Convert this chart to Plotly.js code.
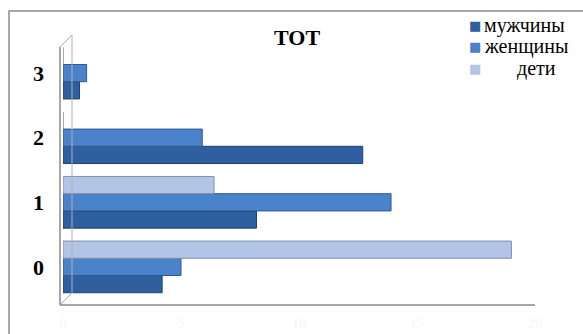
<!DOCTYPE html>
<html>
<head>
<meta charset="utf-8">
<script src="https://cdn.plot.ly/plotly-3.0.1.min.js"></script>
<style>
  html, body { margin: 0; padding: 0; background: #ffffff; }
  #chart { width: 583px; height: 334px; }
</style>
</head>
<body>
<div id="chart"></div>
<script>
// Data
var categories = ['0', '1', '2', '3'];
var seriesNames = ['мужчины', 'женщины', 'дети'];
var men = [4.2, 8.2, 12.7, 0.7];
var women = [5.0, 13.9, 5.9, 1.0];
var children = [19.0, 6.4, 0, 0];
var xTicks = [0, 5, 10, 15, 20];
var chartTitle = 'ТОТ';

var SERIF = 'Liberation Serif, DejaVu Serif, serif';
var colors = ['#2f5f9f', '#4a83c9', '#b3c5e6'];
var lineColors = ['#1d3f6e', '#2c5a94', '#7f8fae'];
var values = [men, women, children];

var traces = values.map(function (v, i) {
  return {
    type: 'bar',
    orientation: 'h',
    name: seriesNames[i],
    y: categories,
    x: v,
    marker: { color: colors[i], line: { color: lineColors[i], width: 1 } },
    showlegend: false,
    hoverinfo: 'x+name'
  };
});

// plot area geometry helpers (paper coords)
var L = 63, R = 535, T = 35, B = 305, W = 583, H = 334;
function px(x) { return (x - L) / (R - L); }
function py(y) { return (B - y) / (B - T); }

var lineStyle = { color: '#8a8a8a', width: 1.5 };
var shapes = [
  // outer frame
  { type: 'rect', xref: 'paper', yref: 'paper', x0: px(9), x1: px(600), y0: py(350), y1: py(11),
    line: { color: '#8c8c8c', width: 1.5 }, fillcolor: 'rgba(0,0,0,0)', layer: 'below' },
  // front vertical axis
  { type: 'line', xref: 'paper', yref: 'paper', x0: px(60), x1: px(60), y0: py(305), y1: py(47), line: lineStyle },
  // back wall vertical
  { type: 'line', xref: 'paper', yref: 'paper', x0: px(72), x1: px(72), y0: py(293), y1: py(35), line: { color: '#b0b0b0', width: 1 } },
  // top slant
  { type: 'line', xref: 'paper', yref: 'paper', x0: px(60), x1: px(72), y0: py(47), y1: py(35), line: { color: '#b0b0b0', width: 1 } },
  // bottom slant
  { type: 'line', xref: 'paper', yref: 'paper', x0: px(60), x1: px(72), y0: py(305), y1: py(293), line: { color: '#b0b0b0', width: 1 } },
  // horizontal axis
  { type: 'line', xref: 'paper', yref: 'paper', x0: px(60), x1: px(535), y0: py(305), y1: py(305), line: lineStyle }
];

// legend built as annotations (marker square + label)
var legendRows = [26, 47, 68];
var legendTextX = [482, 482, 515];
var annotations = [];
seriesNames.forEach(function (name, i) {
  annotations.push({
    xref: 'paper', yref: 'paper', x: px(475), y: py(legendRows[i]),
    xanchor: 'center', yanchor: 'middle', showarrow: false,
    text: '■', font: { family: 'DejaVu Sans, sans-serif', size: 13, color: colors[i] }
  });
  annotations.push({
    xref: 'paper', yref: 'paper', x: px(legendTextX[i]), y: py(legendRows[i]),
    xanchor: 'left', yanchor: 'middle', showarrow: false,
    text: name, font: { family: SERIF, size: 20, color: '#000000' }
  });
});

var layout = {
  width: W, height: H,
  margin: { l: L, r: W - R, t: T, b: H - B, pad: 0, autoexpand: false },
  paper_bgcolor: '#ffffff',
  plot_bgcolor: 'rgba(0,0,0,0)',
  barmode: 'group',
  bargap: 0.2,
  bargroupgap: 0,
  title: {
    text: '<b>' + chartTitle + '</b>',
    x: 297 / W, xanchor: 'center',
    y: 1 - 37 / H, yanchor: 'middle',
    font: { family: SERIF, size: 22, color: '#000000' }
  },
  xaxis: {
    range: [0, 20],
    tickvals: xTicks,
    ticktext: xTicks.map(String),
    showgrid: false, zeroline: false, showline: false,
    ticks: '',
    ticklabelstandoff: 8,
    tickfont: { family: SERIF, size: 14, color: '#f6f6f6' },
    fixedrange: true
  },
  yaxis: {
    type: 'category',
    categoryorder: 'array', categoryarray: categories,
    range: [-0.59, 3.59],
    showgrid: false, zeroline: false, showline: false,
    ticks: '',
    ticklabelstandoff: 18,
    tickfont: { family: SERIF, size: 22, color: '#000000', weight: 'bold' },
    fixedrange: true
  },
  annotations: annotations,
  shapes: shapes,
  showlegend: false
};

Plotly.newPlot('chart', traces, layout, { displayModeBar: false, staticPlot: true });
</script>
</body>
</html>
